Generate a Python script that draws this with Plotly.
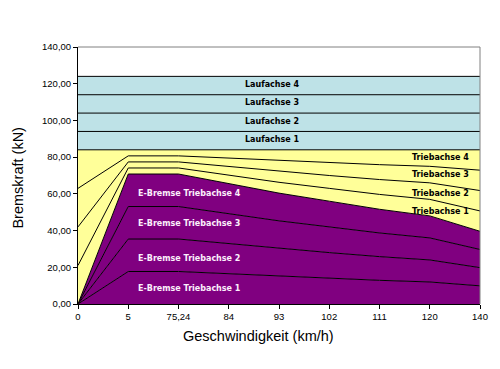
import plotly.graph_objects as go

# ---- data ----
speed_labels = ["0", "5", "75,24", "84", "93", "102", "111", "120", "140"]
e_brake = [0, 17.7, 17.7, 16.4, 15.1, 14.0, 12.9, 12.0, 9.9]          # per driven axle (kN)
axle_total = 21.0                                                      # total per driven axle
trieb = [round(axle_total - v, 2) for v in e_brake]                    # friction part per driven axle
lauf = [10.0] * len(speed_labels)                                      # per carrying axle
y_tickvals = [0, 20, 40, 60, 80, 100, 120, 140]
y_ticklabels = ["0,00", "20,00", "40,00", "60,00", "80,00", "100,00", "120,00", "140,00"]

e_names = ["E-Bremse Triebachse 1", "E-Bremse Triebachse 2", "E-Bremse Triebachse 3", "E-Bremse Triebachse 4"]
t_names = ["Triebachse 1", "Triebachse 2", "Triebachse 3", "Triebachse 4"]
l_names = ["Laufachse 1", "Laufachse 2", "Laufachse 3", "Laufachse 4"]

PURPLE = "#800080"
YELLOW = "#FFFF99"
BLUE = "#BEE2E7"

xs = list(range(len(speed_labels)))
fig = go.Figure()

def add(name, vals, color):
    fig.add_trace(go.Scatter(
        x=xs, y=vals, name=name, mode="lines", stackgroup="s",
        line=dict(color="black", width=1), fillcolor=color, hoverinfo="skip"))

for n in e_names:
    add(n, e_brake, PURPLE)
for n in t_names:
    add(n, trieb, YELLOW)
for n in l_names:
    add(n, lauf, BLUE)

ann = []
# E-brake labels (left aligned)
e_label_y = [8.5, 24.8, 43.6, 60]
for n, yv in zip(e_names, e_label_y):
    ann.append(dict(x=1.15, y=yv, xref="x", yref="y", text="<b>%s</b>" % n, showarrow=False,
                    xanchor="left", font=dict(family="DejaVu Sans", size=8, color="#FBEFFB")))
t_label_y = [50.5, 60.3, 70.3, 80]
for n, yv in zip(t_names, t_label_y):
    ann.append(dict(x=7.82, y=yv, xref="x", yref="y", text="<b>%s</b>" % n, showarrow=False,
                    xanchor="right", font=dict(family="DejaVu Sans", size=8, color="black")))
l_label_y = [89.5, 99.5, 109.7, 119.7]
for n, yv in zip(l_names, l_label_y):
    ann.append(dict(x=3.86, y=yv, xref="x", yref="y", text="<b>%s</b>" % n, showarrow=False,
                    xanchor="center", font=dict(family="DejaVu Sans", size=8, color="black")))

ann.append(dict(x=0.448, y=-0.125, xref="paper", yref="paper", text="Geschwindigkeit (km/h)",
                showarrow=False, xanchor="center", yanchor="middle",
                font=dict(family="Liberation Sans, Arial", size=14.5, color="black")))
ann.append(dict(x=-0.148, y=0.49, xref="paper", yref="paper", text="Bremskraft (kN)",
                showarrow=False, xanchor="center", yanchor="middle", textangle=-90,
                font=dict(family="Liberation Sans, Arial", size=14.5, color="black")))

# page body has an 8px margin, so the figure is shrunk/shifted to land the plot area at 78..482 x 47..304
fig.update_layout(
    width=492, height=361,
    margin=dict(l=70, r=18, t=39, b=65),
    paper_bgcolor="white", plot_bgcolor="white",
    showlegend=False,
    annotations=ann,
    font=dict(family="Liberation Sans, Arial", size=9, color="black"),
    shapes=[
        dict(type="line", xref="paper", yref="paper", x0=0, x1=1, y0=1, y1=1,
             line=dict(color="#808080", width=1)),
        dict(type="line", xref="paper", yref="paper", x0=1, x1=1, y0=0, y1=1,
             line=dict(color="#808080", width=1)),
    ],
)
fig.update_xaxes(range=[0, len(speed_labels) - 1], tickvals=xs, ticktext=speed_labels,
                 showgrid=False, zeroline=False, showline=True, linecolor="black", linewidth=1,
                 ticks="outside", ticklen=4, tickcolor="black",
                 tickfont=dict(size=9.5, family="Liberation Sans, Arial"))
fig.update_yaxes(range=[0, 140], tickvals=y_tickvals, ticktext=y_ticklabels,
                 showgrid=False, zeroline=False, showline=True, linecolor="black", linewidth=1,
                 ticks="outside", ticklen=4, tickcolor="black",
                 tickfont=dict(size=9.5, family="Liberation Sans, Arial"))

fig.write_html("out.html")
